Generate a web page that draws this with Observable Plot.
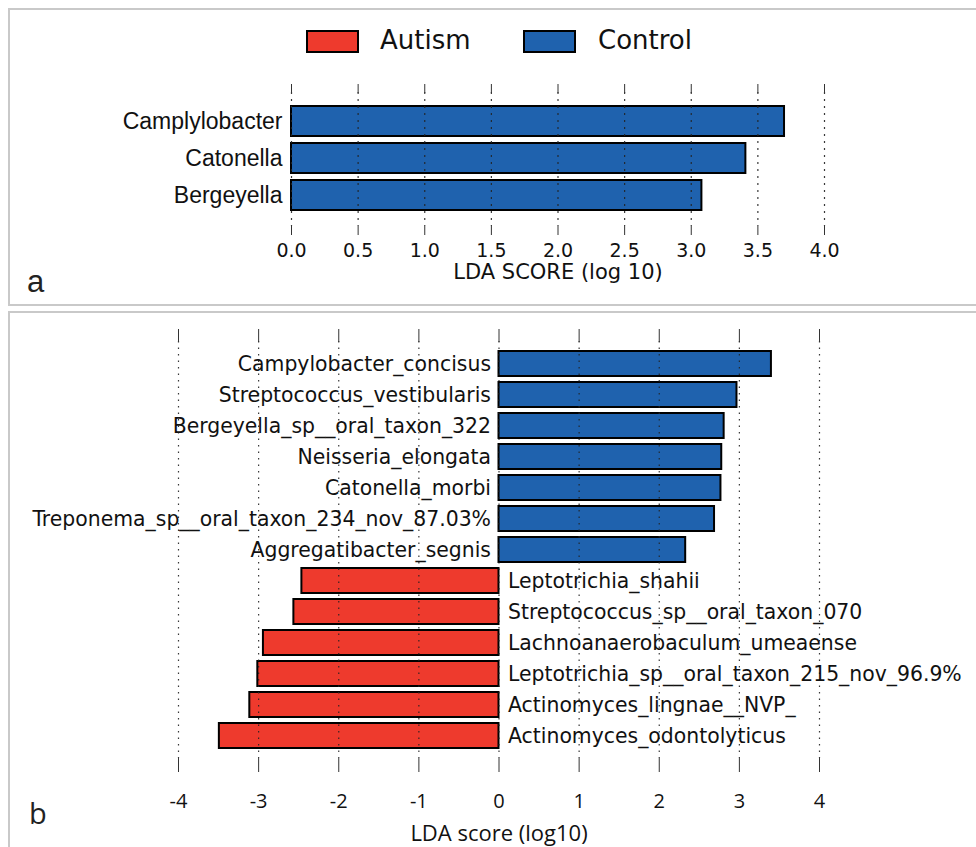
<!DOCTYPE html>
<html>
<head>
<meta charset="utf-8">
<script src="https://cdn.jsdelivr.net/npm/d3@7"></script>
<script src="https://cdn.jsdelivr.net/npm/@observablehq/plot@0.6"></script>
<style>
  html, body { margin: 0; padding: 0; background: #fff; }
  #page { position: relative; width: 976px; height: 847px; overflow: hidden; background: #fff; }
  .panel { position: absolute; border: 2px solid #c9c9c9; box-sizing: border-box; }
  .svgwrap { position: absolute; left: 0; }
  .leg { position: absolute; font-family: "DejaVu Sans", sans-serif; font-size: 26px; color: #111; line-height: 1; }
  .sw { position: absolute; box-sizing: border-box; border: 2px solid #000; }
  .tag { position: absolute; line-height: 1; color: #222; }
</style>
</head>
<body>
<div id="page">
  <div class="panel" style="left:8px; top:8px; width:990px; height:298px;"></div>
  <div class="panel" style="left:8px; top:311px; width:990px; height:560px;"></div>
  <div id="plotA" class="svgwrap" style="top:0px;"></div>
  <div id="plotB" class="svgwrap" style="top:311px;"></div>
  <div id="legend"></div>
  <div class="tag" style="left:27px; top:266px; font-family:'Liberation Sans', sans-serif; font-size:31px;">a</div>
  <div class="tag" style="left:29px; top:798px; font-family:'Open Sans', sans-serif; font-size:29px;">b</div>
</div>
<script>
// ---- Data ----
const groups = ["Autism", "Control"];
const groupColors = ["#ee3a2d", "#1f62ae"];

const namesA = ["Camplylobacter", "Catonella", "Bergeyella"];
const scoresA = [3.70, 3.41, 3.08];
const ticksA = [0, 0.5, 1, 1.5, 2, 2.5, 3, 3.5, 4];
const labelA = "LDA SCORE (log 10)";

const namesB = [
  "Campylobacter_concisus",
  "Streptococcus_vestibularis",
  "Bergeyella_sp__oral_taxon_322",
  "Neisseria_elongata",
  "Catonella_morbi",
  "Treponema_sp__oral_taxon_234_nov_87.03%",
  "Aggregatibacter_segnis",
  "Leptotrichia_shahii",
  "Streptococcus_sp__oral_taxon_070",
  "Lachnoanaerobaculum_umeaense",
  "Leptotrichia_sp__oral_taxon_215_nov_96.9%",
  "Actinomyces_lingnae__NVP_",
  "Actinomyces_odontolyticus"
];
const scoresB = [3.40, 2.97, 2.81, 2.78, 2.77, 2.69, 2.33, -2.46, -2.56, -2.94, -3.01, -3.11, -3.49];
const groupsB = ["Control","Control","Control","Control","Control","Control","Control",
                 "Autism","Autism","Autism","Autism","Autism","Autism"];
const ticksB = [-4, -3, -2, -1, 0, 1, 2, 3, 4];
const labelB = "LDA score (log10)";

// ---- Tables ----
const dataA = namesA.map((name, i) => ({name, score: scoresA[i], group: "Control"}));
const dataB = namesB.map((name, i) => ({name, score: scoresB[i], group: groupsB[i]}));

const color = {domain: groups, range: groupColors};

// ---- Panel a ----
const plotA = Plot.plot({
  width: 976, height: 305,
  marginLeft: 291, marginRight: 152, marginTop: 92, marginBottom: 79,
  style: {background: "transparent", overflow: "visible"},
  color,
  x: {domain: [0, 4]},
  y: {domain: namesA, paddingInner: 0.18, paddingOuter: 0.09, insetTop: 10, insetBottom: 11},
  marks: [
    Plot.barX(dataA, {x: "score", y: "name", fill: "group", stroke: "#000", strokeWidth: 2}),
    Plot.gridX(ticksA, {stroke: "#222", strokeOpacity: 0.9, strokeWidth: 1.2, strokeDasharray: "2,5"}),
    Plot.axisX({anchor: "top", ticks: ticksA, tickSize: 9, tickFormat: () => "", label: null, stroke: "#333"}),
    Plot.axisX({anchor: "bottom", ticks: ticksA, tickSize: 9, tickPadding: 8, tickFormat: d3.format(".1f"),
      label: null, fontSize: 19, fontFamily: "DejaVu Sans", fill: "#111", stroke: "#333"}),
    Plot.axisY({tickSize: 0, tickPadding: 9, label: null, fontSize: 23, fontFamily: "Liberation Sans", fill: "#111"}),
    Plot.text([labelA], {text: d => d, frameAnchor: "bottom", lineAnchor: "middle", dy: 46,
      fontSize: 21, fontFamily: "DejaVu Sans", fill: "#111"})
  ]
});
document.getElementById("plotA").appendChild(plotA);

// ---- Panel b ----
const posB = dataB.filter(d => d.score > 0);
const negB = dataB.filter(d => d.score < 0);
const plotB = Plot.plot({
  width: 976, height: 536,
  marginLeft: 178, marginRight: 157, marginTop: 30, marginBottom: 89,
  style: {background: "transparent", overflow: "visible"},
  color,
  x: {domain: [-4, 4]},
  y: {domain: namesB, axis: null, paddingInner: 0.18, paddingOuter: 0.09, insetTop: 3, insetBottom: 2},
  marks: [
    Plot.barX(dataB, {x: "score", y: "name", fill: "group", stroke: "#000", strokeWidth: 2}),
    Plot.gridX(ticksB, {stroke: "#222", strokeOpacity: 0.9, strokeWidth: 1.2, strokeDasharray: "1.5,5"}),
    Plot.text(posB, {x: 0, y: "name", text: "name", textAnchor: "end", dx: -8,
      fontSize: 20.4, fontFamily: "DejaVu Sans", fill: "#111"}),
    Plot.text(negB, {x: 0, y: "name", text: "name", textAnchor: "start", dx: 9,
      fontSize: 20.4, fontFamily: "DejaVu Sans", fill: "#111"}),
    Plot.axisX({anchor: "top", ticks: ticksB, tickSize: 13, tickFormat: () => "", label: null, stroke: "#333"}),
    Plot.axisX({anchor: "bottom", ticks: ticksB, tickSize: 14, tickPadding: 21, tickFormat: d => String(d),
      label: null, fontSize: 20, fontFamily: "Open Sans", fill: "#111", stroke: "#333"}),
    Plot.text([labelB], {text: d => d, frameAnchor: "bottom", lineAnchor: "middle", dy: 75,
      fontSize: 22, fontFamily: "Open Sans", fill: "#111"})
  ]
});
document.getElementById("plotB").appendChild(plotB);

// ---- Legend (HTML) ----
const legend = document.getElementById("legend");
const legPos = [{sw: 306, tx: 380}, {sw: 523, tx: 598}];
groups.forEach((g, i) => {
  const sw = document.createElement("div");
  sw.className = "sw";
  sw.style.cssText = `left:${legPos[i].sw}px; top:30px; width:53px; height:23px; background:${groupColors[i]};`;
  legend.appendChild(sw);
  const tx = document.createElement("div");
  tx.className = "leg";
  tx.style.cssText = `left:${legPos[i].tx}px; top:27px;`;
  tx.textContent = g;
  legend.appendChild(tx);
});
</script>
</body>
</html>
